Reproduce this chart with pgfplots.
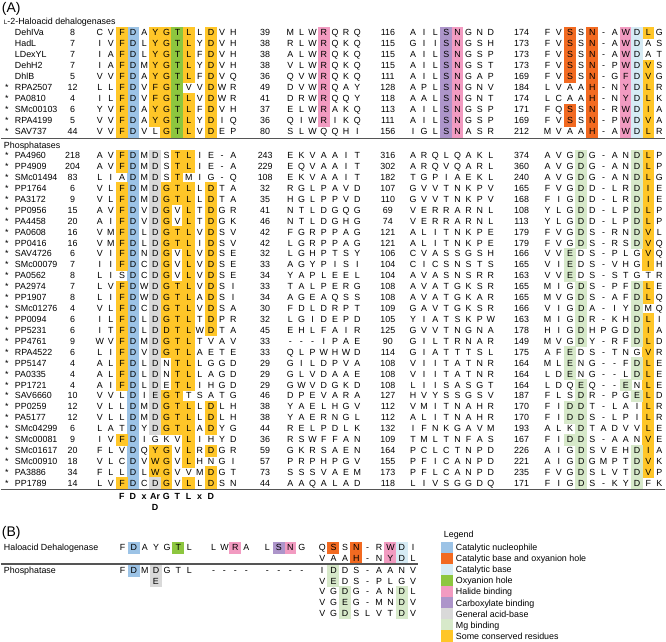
\documentclass[border=0pt]{standalone}
\usepackage{pgfplots}
\pgfplotsset{compat=1.18}
\usepackage{fontspec}
\setmainfont{Liberation Sans}
\definecolor{cNuc}{HTML}{9CC3E6}
\definecolor{cOrg}{HTML}{F26A21}
\definecolor{cBase}{HTML}{D6EBF5}
\definecolor{cOxy}{HTML}{8DC63F}
\definecolor{cHal}{HTML}{F29BC1}
\definecolor{cCarb}{HTML}{AD95CA}
\definecolor{cGab}{HTML}{D9D9D9}
\definecolor{cMg}{HTML}{D7E9CA}
\definecolor{cYel}{HTML}{FFC628}
\definecolor{cLine}{HTML}{555555}
\newcommand\fs{\fontsize{8.9}{10}\selectfont}
\tikzset{lab/.style={anchor=base west, inner sep=0pt, font=\fs},
         num/.style={anchor=base, inner sep=0pt, font=\fs}}
\def\seqloop#1{\ifx\relax#1\else\makebox[\cellw pt][c]{#1}\expandafter\seqloop\fi}
\newcommand\seqs[2]{\def\cellw{#1}\seqloop#2\relax}
\newcommand\R[7]{%
 \node[num] at (axis cs:6,#1+3) {#2};
 \node[lab] at (axis cs:14,#1+3) {#3};
 \node[num] at (axis cs:72,#1+3) {#4};
 \node[lab] at (axis cs:93.425,#1+3) {\seqs{11.15}{#5}};
 \node[num] at (axis cs:265,#1+3) {#6};
 \node[lab] at (axis cs:284.4,#1+3) {\seqs{11.2}{#7}};}
\newcommand\Rb[5]{%
 \node[num] at (axis cs:388,#1+3) {#2};
 \node[lab] at (axis cs:407.425,#1+3) {\seqs{11.15}{#3}};
 \node[num] at (axis cs:522,#1+3) {#4};
 \node[lab] at (axis cs:542.4,#1+3) {\seqs{11.2}{#5}};}
\pgfplotsset{cellmk/.style={only marks, mark=square*, mark size=5.575pt, color=#1, mark options={solid, fill=#1, draw=#1, line width=0pt}},
  frame/.style={scale only axis, width=666pt, height=643pt,
  xmin=0, xmax=666, ymin=0, ymax=643, y dir=reverse, hide axis, clip=false}}
\newcommand\cells[3]{\addplot[cellmk=#1] table[row sep=\\, x expr={#2}, y expr={(\thisrow{r}<10)?(33+11*\thisrow{r}):(156+10.95*(\thisrow{r}-10))}] {r\\#3};}
\begin{document}
\begin{tikzpicture}
\begin{axis}[frame]
\addplot[draw=none] coordinates {(0,0) (666,643)};
% ---------- highlighted cells, panel A ----------
\cells{cNuc}{132.45}{0\\1\\2\\3\\4\\5\\6\\7\\8\\9\\10\\11\\12\\13\\14\\15\\16\\17\\18\\19\\20\\21\\22\\23\\24\\25\\26\\27\\28\\29\\30\\31\\32\\33\\34\\35\\36\\37\\38\\39\\40\\}
\cells{cYel}{121.3}{0\\1\\2\\3\\4\\5\\6\\7\\8\\9\\10\\11\\13\\14\\15\\16\\17\\18\\19\\20\\22\\23\\24\\25\\26\\27\\28\\29\\30\\31\\36\\40\\}
\cells{cYel}{154.75}{0\\1\\2\\3\\4\\5\\6\\7\\8\\37\\38\\39\\}
\cells{cYel}{165.9}{0\\1\\2\\3\\4\\5\\6\\7\\8\\9\\13\\14\\15\\16\\17\\18\\19\\20\\21\\22\\23\\24\\25\\26\\27\\28\\32\\33\\34\\35\\37\\38\\39\\40\\}
\cells{cYel}{177.05}{10\\11\\12\\13\\14\\17\\18\\22\\23\\24\\25\\26\\27\\28\\29\\30\\31\\32\\33\\34\\35\\}
\cells{cYel}{188.2}{0\\1\\2\\3\\4\\6\\7\\8\\9\\10\\11\\13\\14\\15\\16\\17\\18\\19\\20\\21\\22\\23\\24\\25\\26\\27\\28\\29\\30\\31\\33\\34\\35\\36\\37\\38\\40\\}
\cells{cYel}{210.5}{0\\1\\2\\3\\4\\5\\6\\7\\8\\9\\13\\14\\15\\16\\17\\18\\19\\20\\21\\22\\23\\24\\25\\26\\33\\34\\35\\37\\39\\40\\}
\cells{cYel}{648.8}{0\\3\\4\\5\\6\\7\\8\\9\\10\\11\\12\\13\\14\\15\\16\\17\\18\\19\\20\\22\\23\\25\\26\\27\\28\\29\\30\\31\\32\\33\\34\\35\\36\\37\\38\\39\\}
\cells{cOxy}{177.05}{0\\1\\2\\3\\4\\5\\6\\7\\8\\9\\}
\cells{cGab}{154.75}{10\\11\\12\\13\\14\\15\\16\\17\\18\\19\\20\\21\\22\\23\\24\\25\\26\\27\\28\\29\\30\\31\\32\\33\\34\\35\\40\\}
\cells{cHal}{323.6}{0\\1\\2\\3\\4\\5\\6\\7\\8\\}
\cells{cHal}{457.6}{0\\1\\2\\3\\4\\5\\6\\7\\8\\9\\}
\cells{cHal}{626.4}{0\\1\\2\\3\\4\\5\\6\\7\\8\\9\\}
\cells{cCarb}{446.45}{0\\1\\2\\3\\4\\5\\6\\7\\8\\9\\}
\cells{cOrg}{570.4}{0\\1\\2\\3\\4\\7\\8\\}
\cells{cOrg}{592.8}{0\\1\\2\\3\\4\\5\\6\\7\\8\\9\\}
\cells{cBase}{637.6}{0\\1\\2\\3\\4\\5\\6\\7\\8\\9\\}
\cells{cMg}{581.6}{10\\11\\12\\13\\14\\15\\16\\17\\18\\22\\23\\24\\25\\26\\27\\31\\32\\33\\34\\35\\36\\37\\38\\39\\40\\}
\cells{cMg}{570.4}{19\\20\\21\\28\\29\\30\\33\\34\\36\\}
\cells{cMg}{637.6}{10\\11\\12\\13\\14\\15\\16\\17\\18\\22\\23\\24\\25\\26\\27\\29\\30\\32\\37\\38\\39\\40\\}
\cells{cMg}{626.4}{31\\}
% ---------- highlighted cells, panel B ----------
\addplot[cellmk=cNuc] coordinates {(133.15,549) (133.15,572)};
\addplot[cellmk=cOxy] coordinates {(177.75,549)};
\addplot[cellmk=cHal] coordinates {(235,549) (290,549) (390.4,549) (390.4,560)};
\addplot[cellmk=cCarb] coordinates {(278.5,549)};
\addplot[cellmk=cOrg] coordinates {(333.4,549) (356.2,549) (356.2,560)};
\addplot[cellmk=cBase] coordinates {(401.8,549) (401.8,560)};
\addplot[cellmk=cGab] coordinates {(155.45,572) (155.45,582.7)};
\addplot[cellmk=cMg] coordinates {(333.4,572) (333.4,582.7) (344.8,593.4) (344.8,604.1) (344.8,614.8) (401.8,593.4) (401.8,604.1) (401.8,614.8)};
% legend swatches
\addplot[cellmk=cNuc, mark size=5.5pt] coordinates {(447.5,549)};
\addplot[cellmk=cOrg, mark size=5.5pt] coordinates {(447.5,560.1)};
\addplot[cellmk=cBase, mark size=5.5pt] coordinates {(447.5,571.2)};
\addplot[cellmk=cOxy, mark size=5.5pt] coordinates {(447.5,582.3)};
\addplot[cellmk=cHal, mark size=5.5pt] coordinates {(447.5,593.4)};
\addplot[cellmk=cCarb, mark size=5.5pt] coordinates {(447.5,604.5)};
\addplot[cellmk=cGab, mark size=5.5pt] coordinates {(447.5,615.6)};
\addplot[cellmk=cMg, mark size=5.5pt] coordinates {(447.5,626.7)};
\addplot[cellmk=cYel, mark size=5.5pt] coordinates {(447.5,637.8)};
\end{axis}
\begin{axis}[frame]
\addplot[draw=none] coordinates {(0,0) (666,643)};
% separator lines
\addplot[cLine, line width=1.6pt] coordinates {(0,139) (666,139)};
\addplot[cLine, line width=1.6pt] coordinates {(0,490.5) (666,490.5)};
\addplot[cLine, line width=1.6pt] coordinates {(0,565.5) (418,565.5)};
% ---------- text, panel A ----------
\node[anchor=base west, inner sep=0pt, font=\fontsize{14}{16}\selectfont] at (axis cs:1,13) {(A)};
\node[lab] at (axis cs:3,25) {{\fontsize{6.3}{7}\selectfont L}-2-Haloacid dehalogenases};
\R{33}{}{DehIVa}{8}{CVFDAYGTLLDVH}{39}{MLWRQRQ}\Rb{33}{116}{AILSNGND}{174}{FVSSN-AWDLG}
\R{44}{}{HadL}{7}{IVFDLYGTLYDVH}{38}{RLWRQKQ}\Rb{44}{115}{GIISNGSH}{173}{FVSSN-AWDAS}
\R{55}{}{LDexYL}{7}{IAFDLYGTLFDVH}{38}{ALWRQKQ}\Rb{55}{115}{AILSNGSP}{173}{FVSSN-AWDAT}
\R{66}{}{DehH2}{7}{IAFDMYGTLYDVH}{38}{VLWRQKQ}\Rb{66}{115}{AILSNGST}{173}{FVSSN-PWDVS}
\R{77}{}{DhlB}{5}{VVFDAYGTLFDVQ}{36}{QVWRQKQ}\Rb{77}{111}{AILSNGAP}{169}{FVSSN-GFDVG}
\R{88}{*}{RPA2507}{12}{LLFDVFGTVVDWR}{49}{DVWRQAY}\Rb{88}{128}{APLSNGNV}{184}{LVAAH-NYDLR}
\R{99}{*}{PA0810}{4}{ILFDVFGTLVDWR}{41}{DRWRQQY}\Rb{99}{118}{AALSNGNT}{174}{LCAAH-NYDLK}
\R{110}{*}{SMc00103}{6}{YVFDAYGTLFDVH}{37}{ELWRAKQ}\Rb{110}{113}{AILSNGSP}{171}{FQSSN-RWDIA}
\R{121}{*}{RPA4199}{5}{VVFDAYGTLYDIQ}{36}{QIWRIKQ}\Rb{121}{111}{AILSNGSP}{169}{FVSSN-PWDVA}
\R{132}{*}{SAV737}{44}{VVFDVLGTLVDEP}{80}{SLWQQHI}\Rb{132}{156}{IGLSNASR}{212}{MVAAH-AWDLR}
\node[lab] at (axis cs:3,149) {Phosphatases};
\R{156}{*}{PA4960}{218}{AVFDMDSTLIE-A}{243}{EKVAAIT}\Rb{156}{316}{ARQLQAKL}{374}{AVGDG-ANDLP}
\R{166.95}{*}{PP4909}{204}{AVFDMDSTLIE-A}{229}{EQVAAIT}\Rb{166.95}{302}{ARQVQARL}{360}{AVGDG-ANDLP}
\R{177.9}{*}{SMc01494}{83}{LIADMDSTMIG-Q}{108}{EKVAAIT}\Rb{177.9}{182}{TGPIAEKL}{240}{AVGDG-ANDLG}
\R{188.85}{*}{PP1764}{6}{VLFDMDGTLLDTA}{32}{RGLPAVD}\Rb{188.85}{107}{GVVTNKPV}{165}{FVGDD-LRDIE}
\R{199.8}{*}{PA3172}{9}{VLFDMDGTLLDTA}{35}{HGLPPVD}\Rb{199.8}{110}{GVVTNKPV}{168}{FIGDD-LRDIE}
\R{210.75}{*}{PP0956}{15}{AVFDVDGVLTDGR}{41}{NTLDGQG}\Rb{210.75}{69}{VERRARNL}{108}{YLGDD-LPDLP}
\R{221.7}{*}{PA4458}{20}{AIFDVDGVLTDGK}{46}{NTLDGHG}\Rb{221.7}{74}{VERRARNL}{113}{YLGDD-LPDLP}
\R{232.65}{*}{PA0608}{16}{VMFDLDGTLVDSV}{42}{FGRPPAG}\Rb{232.65}{121}{ALITNKPE}{179}{FVGDS-RNDVL}
\R{243.6}{*}{PP0416}{16}{VMFDLDGTLIDSV}{42}{LGRPPAG}\Rb{243.6}{121}{ALITNKPE}{179}{FVGDS-RSDVQ}
\R{254.55}{*}{SAV4726}{6}{VIFDNDGVLVDSE}{32}{LGHPTSY}\Rb{254.55}{106}{CVASSGSH}{166}{VVEDS-PLGVQ}
\R{265.5}{*}{SMc00079}{7}{IIFDCDGVLVDSE}{33}{AGYPISI}\Rb{265.5}{104}{CICSNSTS}{165}{VIEDS-VHGIH}
\R{276.45}{*}{PA0562}{8}{LISDCDGVLVDSE}{34}{YAPLEEL}\Rb{276.45}{104}{AVASNSRR}{163}{VVEDS-STGTR}
\R{287.4}{*}{PA2974}{7}{LVFDWDGTLVDSI}{33}{TALPERG}\Rb{287.4}{108}{AVATGKSR}{165}{MIGDS-PFDLE}
\R{298.35}{*}{PP1907}{8}{LIFDWDGTLADSI}{34}{AGEAQSS}\Rb{298.35}{108}{AVATGKAR}{165}{MVGDS-AFDLQ}
\R{309.3}{*}{SMc01276}{4}{VLFDCDGTLVDSA}{30}{FDLDRPT}\Rb{309.3}{109}{GAVTGKSR}{166}{VIGDA-IYDMQ}
\R{320.25}{*}{PP0094}{6}{ILFDLDGTLTDPR}{32}{LGIDEPD}\Rb{320.25}{105}{YIATSKPW}{163}{MIGDR-KHDLI}
\R{331.2}{*}{PP5231}{6}{ITFDLDDTLWDTA}{45}{EHLFAIR}\Rb{331.2}{125}{GVVTNGNA}{178}{HIGDHPGDDIA}
\R{342.15}{*}{PP4761}{9}{WVFDMDGTLTVAV}{33}{---IPAE}\Rb{342.15}{90}{GILTRNAR}{149}{MVGDY-RFDLD}
\R{353.1}{*}{RPA4522}{6}{LIFDVDGTLAETE}{33}{QLPWHWD}\Rb{353.1}{114}{GIATTTSL}{175}{AFEDS-TNGVR}
\R{364.05}{*}{PP5147}{4}{ALFDLDNTLLGGD}{29}{GILDPVA}\Rb{364.05}{108}{VIITATNR}{164}{MLENG--FDLE}
\R{375}{*}{PA0335}{4}{ALFDLDNTLLAGD}{29}{GLVDAAE}\Rb{375}{108}{VIITATNR}{164}{LDENG--LDLE}
\R{385.95}{*}{PP1721}{4}{AIFDLDETLIHGD}{29}{GWVDGKD}\Rb{385.95}{108}{LIISASGT}{164}{LDQEQ--ENLE}
\R{396.9}{*}{SAV6660}{10}{VVLDIEGTTSATG}{46}{DPEVARA}\Rb{396.9}{127}{HVYSSGSV}{187}{FLSDR-PGELD}
\R{407.85}{*}{PP0259}{12}{VLLDMDGTLLDLH}{38}{YAELHGV}\Rb{407.85}{112}{VMITNAHR}{170}{FIDDT-LAILR}
\R{418.8}{*}{PA5177}{12}{VLLDMDGTLLDLH}{38}{YAERNGL}\Rb{418.8}{112}{ALITNAHR}{170}{FIDDS-LPILR}
\R{429.75}{*}{SMc04299}{6}{LATDYDGTLADYG}{44}{RELPDLK}\Rb{429.75}{132}{IFNKGAVM}{193}{ALKDTADVVLE}
\R{440.7}{*}{SMc00081}{9}{IVFDIGKVLIHYD}{36}{RSWFFAN}\Rb{440.7}{109}{TMLTNFAS}{167}{FIDDS-AANVE}
\R{451.65}{*}{SMc01617}{20}{FLVDQYGVLRDGR}{59}{GKRSAEN}\Rb{451.65}{164}{PCLCTNPD}{226}{AIGDSVEHDIA}
\R{462.6}{*}{SMc00910}{18}{VLCDVWGVLHNGI}{57}{PRPHPGV}\Rb{462.6}{155}{PFICANPD}{221}{AIGDGMPTDVK}
\R{473.55}{*}{PA3886}{34}{FLLDLWGVVMDGT}{73}{SSSVAEM}\Rb{473.55}{173}{PFLCANPD}{235}{FVGDSLVTDVP}
\R{484.5}{*}{PP1789}{14}{LVFDCDGVLLDSN}{44}{AAQALAD}\Rb{484.5}{118}{LIVSGGDQ}{171}{FIGDS-KYDFK}
% consensus
\node[num, font=\fs\bfseries] at (axis cs:121.3,501) {F};
\node[num, font=\fs\bfseries] at (axis cs:132.45,501) {D};
\node[num, font=\fs\bfseries] at (axis cs:143.6,501) {x};
\node[num, font=\fs\bfseries] at (axis cs:154.75,501) {Ar};
\node[num, font=\fs\bfseries] at (axis cs:154.75,512) {D};
\node[num, font=\fs\bfseries] at (axis cs:165.9,501) {G};
\node[num, font=\fs\bfseries] at (axis cs:177.05,501) {T};
\node[num, font=\fs\bfseries] at (axis cs:188.2,501) {L};
\node[num, font=\fs\bfseries] at (axis cs:199.35,501) {x};
\node[num, font=\fs\bfseries] at (axis cs:210.5,501) {D};
% ---------- text, panel B ----------
\node[anchor=base west, inner sep=0pt, font=\fontsize{14}{16}\selectfont] at (axis cs:1,538) {(B)};
\node[lab] at (axis cs:3,552) {Haloacid Dehalogenase};
\node[lab] at (axis cs:3,575) {Phosphatase};
\node[lab] at (axis cs:116.425,552) {\seqs{11.15}{FDAYGTL}};
\node[lab] at (axis cs:207.5,552) {\seqs{11}{LWRA}};
\node[lab] at (axis cs:261.25,552) {\seqs{11.5}{LSNG}};
\node[lab] at (axis cs:316.3,552) {\seqs{11.4}{QSSN-RWDI}};
\node[lab] at (axis cs:316.3,563) {\seqs{11.4}{VAAH-NYDL}};
\node[lab] at (axis cs:116.425,575) {\seqs{11.15}{FDMDGTL}};
\node[lab] at (axis cs:207.5,575) {\seqs{11}{----}};
\node[lab] at (axis cs:261.25,575) {\seqs{11.5}{----}};
\node[lab] at (axis cs:316.3,575) {\seqs{11.4}{IDDS-AANV}};
\node[num] at (axis cs:155.45,585.7) {E};
\node[lab] at (axis cs:316.3,585.7) {\seqs{11.4}{VEDS-PLGV}};
\node[lab] at (axis cs:316.3,596.4) {\seqs{11.4}{VGDG-ANDL}};
\node[lab] at (axis cs:316.3,607.1) {\seqs{11.4}{VGEG-MNDV}};
\node[lab] at (axis cs:316.3,617.8) {\seqs{11.4}{VGDSLVTDV}};
% legend text
\node[lab] at (axis cs:444,539) {Legend};
\node[lab] at (axis cs:456,552) {Catalytic nucleophile};
\node[lab] at (axis cs:456,563.1) {Catalytic base and oxyanion hole};
\node[lab] at (axis cs:456,574.2) {Catalytic base};
\node[lab] at (axis cs:456,585.3) {Oxyanion hole};
\node[lab] at (axis cs:456,596.4) {Halide binding};
\node[lab] at (axis cs:456,607.5) {Carboxylate binding};
\node[lab] at (axis cs:456,618.6) {General acid-base};
\node[lab] at (axis cs:456,629.7) {Mg binding};
\node[lab] at (axis cs:456,640.8) {Some conserved residues};
\end{axis}
\end{tikzpicture}
\end{document}
